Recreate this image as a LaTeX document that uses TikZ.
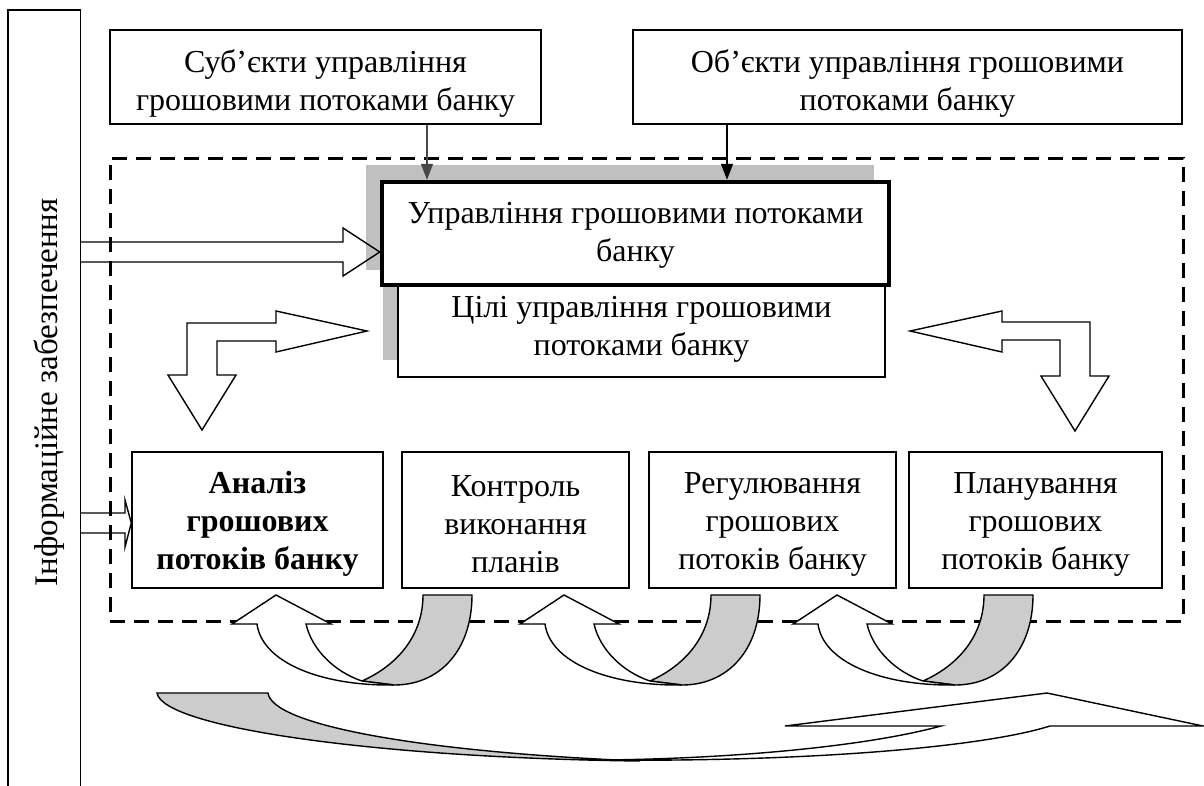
\documentclass[tikz,border=0pt]{standalone}
\usepackage{fontspec}
\setmainfont{Liberation Serif}
\usetikzlibrary{arrows.meta}
\newcommand\myUarrow[1]{%
  \begin{scope}[xshift=#1pt]
    \draw[ln, bandgray] (423,595) -- (472,595) .. controls (472,650) and (440,685) .. (394,685)
      -- (362,681) .. controls (398,665) and (423,635) .. (423,595) -- cycle;
    \draw[ln, fill=white] (276,595) -- (331,624) -- (306,624)
      .. controls (312,650) and (335,672) .. (362,681) -- (394,685)
      .. controls (320,686) and (262,662) .. (257,624) -- (232,624) -- cycle;
  \end{scope}}
\begin{document}
\begin{tikzpicture}[x=1pt,y=-1pt,
  ln/.style={line width=1.4pt, line join=miter},
  box/.style={draw, line width=1.4pt, fill=white, inner sep=0pt},
  txt/.style={align=center, inner sep=0pt, font=\fontsize{32}{38}\selectfont},
  toptxt/.style={txt, font=\fontsize{32}{38}\selectfont},
  dashbox/.style={draw, line width=3pt, dash pattern=on 15pt off 9pt},
  bandgray/.style={fill={rgb,255:red,204;green,204;blue,204}},
]
\definecolor{shgray}{RGB}{192,192,192}
\useasboundingbox (0,0) rectangle (1204,785);

% information box (open at the bottom)
\node[minimum width=72pt, minimum height=800pt, anchor=north west, inner sep=0pt] (info) at (8,10) {};
\draw[ln] (info.south west) -- (info.north west) -- (info.north east) -- (info.south east);
\node[rotate=90, anchor=base west, font=\fontsize{33}{38}\selectfont] (infotext) at (57,590) {Інформаційне забезпечення};

% top boxes
\node[box, minimum width=431pt, minimum height=94pt] (subj) at (325.5,77) {};
\node[toptxt] (subjt) at (325.5,83) {Суб’єкти управління\\грошовими потоками банку};
\node[box, minimum width=549pt, minimum height=94pt] (obj) at (907.5,77) {};
\node[toptxt] (objt) at (907.5,83) {Об’єкти управління грошовими\\потоками банку};

% dashed frame
\node[dashbox, minimum width=1073pt, minimum height=463pt, inner sep=0pt] (frame) at (646.5,389.5) {};

% shadows
\fill[shgray] (366,165) rectangle (874,270);
\fill[shgray] (383,268) rectangle (870,360);

% central boxes
\node[box, minimum width=487pt, minimum height=92pt] (goal) at (641.5,331) {};
\node[txt] (goalt) at (641.5,329) {Цілі управління грошовими\\потоками банку};
\node[box, line width=4.5pt, minimum width=507pt, minimum height=103pt] (main) at (635.5,233.5) {};
\node[txt] (maint) at (635.5,235) {Управління грошовими потоками\\банку};

% arrows from top boxes
\draw[line width=1.4pt, black!72, -{Triangle[length=16pt,width=12pt]}]
  (427,0 |- subj.south) -- (427,0 |- main.north);
\draw[line width=1.4pt, -{Triangle[length=16pt,width=12pt]}]
  (727,0 |- obj.south) -- (727,0 |- main.north);

% bottom boxes
\node[box, minimum width=251pt, minimum height=136pt] (anal) at (257.5,520) {};
\node[txt] (analt) at (257.5,524) {\textbf{Аналіз}\\\textbf{грошових}\\\textbf{потоків банку}};
\node[box, minimum width=227pt, minimum height=136pt] (ctrl) at (515.5,520) {};
\node[txt] (ctrlt) at (515.5,524) {Контроль\\виконання\\планів};
\node[box, minimum width=247pt, minimum height=136pt] (regul) at (772.5,520) {};
\node[txt] (regult) at (772.5,524) {Регулювання\\грошових\\потоків банку};
\node[box, minimum width=253pt, minimum height=136pt] (plan) at (1035.5,520) {};
\node[txt] (plant) at (1035.5,524) {Планування\\грошових\\потоків банку};

% hollow arrows from information box
\draw[ln] (info.east |- 0,242) -- (343,242) -- (343,228) -- (main.west |- 0,252)
  -- (343,276) -- (343,262) -- (info.east |- 0,262);
\draw[ln] (info.east |- 0,513) -- (125,513) -- (125,500) -- (anal.west |- 0,523)
  -- (125,547) -- (125,533) -- (info.east |- 0,533);

% bent double arrows
\draw[ln, fill=white] (367,331) -- (276,311) -- (276,323) -- (187,323) -- (187,375)
  -- (168,375) -- (202,430) -- (236,375) -- (217,375) -- (217,341) -- (276,341)
  -- (276,352) -- cycle;
\draw[ln, fill=white] (910,331) -- (1002,311) -- (1002,322) -- (1090,322) -- (1090,376)
  -- (1109,376) -- (1075,431) -- (1041,376) -- (1060,376) -- (1060,340) -- (1002,340)
  -- (1002,352) -- cycle;

% curved U arrows between the function boxes
\myUarrow{0}
\myUarrow{288}
\myUarrow{561}

% long curved arrow at the bottom
\draw[ln, bandgray] (157,693) -- (268,693) .. controls (272,725) and (420,752) .. (640,761)
  .. controls (380,758) and (163,728) .. (157,693) -- cycle;
\draw[ln, fill=white] (600,760) .. controls (800,762) and (980,748) .. (1050,726)
  -- (1203,726) -- (1047,693) -- (785,726) -- (941,726)
  .. controls (860,748) and (720,759) .. (600,760) -- cycle;
\end{tikzpicture}
\end{document}
